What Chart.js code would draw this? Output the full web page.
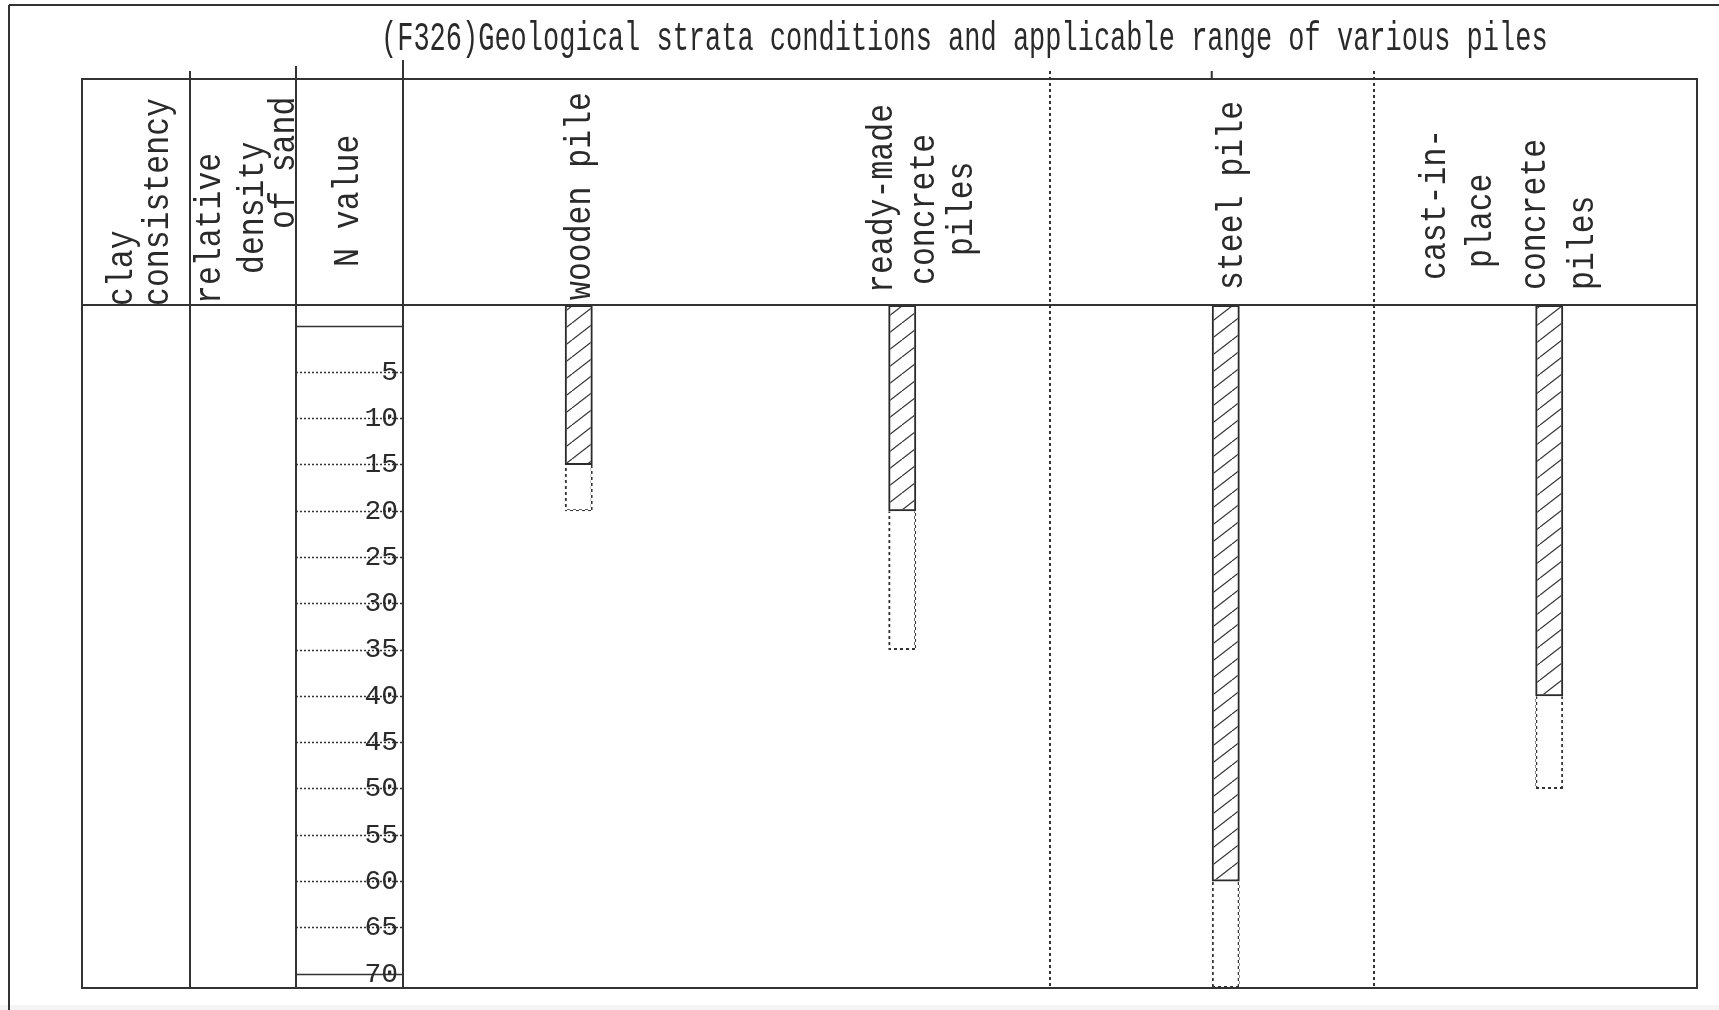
<!DOCTYPE html>
<html>
<head>
<meta charset="utf-8">
<script src="https://cdn.jsdelivr.net/npm/chart.js@4.4.1/dist/chart.umd.min.js"></script>
<style>
    html, body { margin: 0; padding: 0; background: #fff; }
    #wrap { width: 1719px; height: 1010px; position: relative; }
</style>
</head>
<body>
<div id="wrap"><canvas id="pileChart"></canvas></div>
<script>
var chartTitle = '(F326)Geological strata conditions and applicable range of various piles';
var pileTypes = ['wooden pile', 'ready-made concrete piles', 'steel pile', 'cast-in-place concrete piles'];
var pileHeaderLines = [['wooden pile'], ['ready-made', 'concrete', 'piles'], ['steel pile'], ['cast-in-', 'place', 'concrete', 'piles']];
var soilHeaderLines = [['clay', 'consistency'], ['relative', 'density', 'of sand'], ['N value']];

// N value range: hatched = applicable, dotted = possible
var applicableTo = [15, 20, 60, 40];
var possibleTo = [20, 35, 71.5, 50];

// N value axis (top of table body down to the bottom line)
var nValueMin = -2.27;
var nValueMax = 71.5;
var nValueStep = 5;

// header text placement: [baseline x, start y] (soil), [dx from category, start y] (piles)
var soilHeaderPos = [[[132, 306], [168, 306]], [[220, 304], [263, 274], [294, 229]], [[358, 267]]];
var pileHeaderPos = [[[25, 300]], [[4, 293], [46, 285], [84, 256]], [[30, 290]], [[-90, 280], [-44, 268], [10, 290], [58, 290]]];

var lineColor = '#333';
var textColor = '#2a2a2a';
var fontFamily = '"Liberation Mono", "DejaVu Sans Mono", monospace';

function makeHatch() {
    var c = document.createElement('canvas');
    c.width = 22;
    c.height = 17;
    var g = c.getContext('2d');
    g.strokeStyle = lineColor;
    g.lineWidth = 1.2;
    for (var k = -1; k <= 1; k++) {
        g.beginPath();
        g.moveTo(k * 22, 17);
        g.lineTo(k * 22 + 22, 0);
        g.stroke();
    }
    return g.createPattern(c, 'repeat');
}

function makeDots() {
    var c = document.createElement('canvas');
    c.width = 6;
    c.height = 6;
    var g = c.getContext('2d');
    g.fillStyle = lineColor;
    g.fillRect(0, 0, 3, 3);
    g.fillRect(3, 3, 3, 3);
    return g.createPattern(c, 'repeat');
}

function stretchedText(ctx, text, x, y, size, stretch, vertical) {
    ctx.save();
    ctx.translate(x, y);
    if (vertical) ctx.rotate(-Math.PI / 2);
    ctx.scale(1, stretch);
    ctx.font = size + 'px ' + fontFamily;
    ctx.textAlign = 'left';
    ctx.textBaseline = 'alphabetic';
    ctx.fillStyle = textColor;
    ctx.fillText(text, 0, 0);
    ctx.restore();
}

function line(ctx, x1, y1, x2, y2) {
    ctx.beginPath();
    ctx.moveTo(x1, y1);
    ctx.lineTo(x2, y2);
    ctx.stroke();
}

var sheetPlugin = {
    id: 'sheet',
    beforeDraw: function(chart) {
        var ctx = chart.ctx;
        ctx.save();
        ctx.fillStyle = '#fff';
        ctx.fillRect(0, 0, chart.width, chart.height);
        ctx.fillStyle = '#f4f4f4';
        ctx.fillRect(0, chart.height - 5, chart.width, 5);
        ctx.restore();
    },
    afterDraw: function(chart) {
        var ctx = chart.ctx;
        var area = chart.chartArea;
        var xs = chart.scales.x;
        var ys = chart.scales.y;
        var tableLeft = ys.left;
        var tableTop = xs.top;
        var nLeft = area.left - ys.options.grid.tickLength;
        var densityLeft = Math.round((tableLeft + nLeft) / 2) + 1;

        ctx.save();
        ctx.strokeStyle = lineColor;
        ctx.lineWidth = 2;

        // sheet frame
        line(ctx, 9, 5, chart.width, 5);
        line(ctx, 9, 5, 9, chart.height);

        // table
        ctx.strokeRect(tableLeft, tableTop, area.right - tableLeft, area.bottom - tableTop);
        line(ctx, tableLeft, area.top, area.right, area.top);
        line(ctx, densityLeft, tableTop - 8, densityLeft, area.bottom);
        line(ctx, nLeft, tableTop - 13, nLeft, area.bottom);
        line(ctx, area.left, tableTop - 19, area.left, area.bottom);

        // small mark above the steel pile column
        var steelBar = chart.getDatasetMeta(1).data[2];
        line(ctx, steelBar.x - steelBar.width / 2, tableTop - 8, steelBar.x - steelBar.width / 2, tableTop);
        ctx.restore();

        stretchedText(ctx, chartTitle, 381, 50, 27, 1.5, false);

        soilHeaderLines.forEach(function(lines, i) {
            lines.forEach(function(txt, j) {
                var p = soilHeaderPos[i][j];
                stretchedText(ctx, txt, p[0], p[1], 31.5, 1.2, true);
            });
        });
        pileHeaderLines.forEach(function(lines, i) {
            var cx = xs.getPixelForValue(i);
            lines.forEach(function(txt, j) {
                var p = pileHeaderPos[i][j];
                stretchedText(ctx, txt, cx + p[0], p[1], 31.5, 1.2, true);
            });
        });
    }
};

var canvas = document.getElementById('pileChart');
var data = {
    labels: pileTypes,
    datasets: [{
        label: 'spacer',
        stack: 'spacer',
        data: pileTypes.map(function() { return null; })
    }, {
        label: 'applicable',
        stack: 'pile',
        data: applicableTo.map(function(v) { return [nValueMin, v]; }),
        backgroundColor: makeHatch(),
        borderColor: '#2b2b2b',
        borderWidth: 2,
        borderSkipped: false
    }, {
        label: 'possible',
        stack: 'pile',
        data: possibleTo.map(function(v, i) { return [applicableTo[i], v]; }),
        backgroundColor: 'rgba(0,0,0,0)',
        borderColor: makeDots(),
        borderWidth: 2,
        borderSkipped: 'start'
    }]
};
var config = {
    type: 'bar',
    data: data,
    plugins: [sheetPlugin],
    options: {
        responsive: true,
        maintainAspectRatio: false,
        animation: false,
        events: [],
        layout: {
            padding: { left: 82, right: 22, top: 79, bottom: 22 }
        },
        datasets: {
            bar: {
                categoryPercentage: 0.173,
                barPercentage: 1
            }
        },
        plugins: {
            legend: { display: false },
            title: { display: false },
            tooltip: { enabled: false }
        },
        scales: {
            x: {
                position: 'top',
                stacked: true,
                offset: true,
                afterFit: function(scale) { scale.height = 226; },
                ticks: { display: false },
                grid: {
                    offset: true,
                    drawOnChartArea: true,
                    drawTicks: true,
                    tickLength: 234,
                    lineWidth: 2,
                    tickWidth: 2,
                    color: function(c) { return (c.index === 2 || c.index === 3) ? lineColor : 'rgba(0,0,0,0)'; },
                    tickColor: function(c) { return (c.index === 2 || c.index === 3) ? lineColor : 'rgba(0,0,0,0)'; },
                    tickBorderDash: [3, 3]
                },
                border: { display: false, dash: [3, 3] }
            },
            y: {
                position: 'left',
                reverse: true,
                stacked: false,
                min: nValueMin,
                max: nValueMax,
                afterFit: function(scale) { scale.width = 321; },
                ticks: {
                    stepSize: nValueStep,
                    includeBounds: false,
                    padding: -102,
                    color: textColor,
                    font: { family: fontFamily, size: 28 },
                    callback: function(value) { return value === 0 ? '' : value; }
                },
                grid: {
                    drawOnChartArea: false,
                    drawTicks: true,
                    tickLength: 107,
                    tickWidth: 1.5,
                    tickColor: lineColor,
                    tickBorderDash: function(c) {
                        return (c.tick && (c.tick.value === 0 || c.tick.value === 70)) ? [] : [2, 2];
                    }
                },
                border: { display: false }
            }
        }
    }
};
var chart = new Chart(canvas, config);
</script>
</body>
</html>
